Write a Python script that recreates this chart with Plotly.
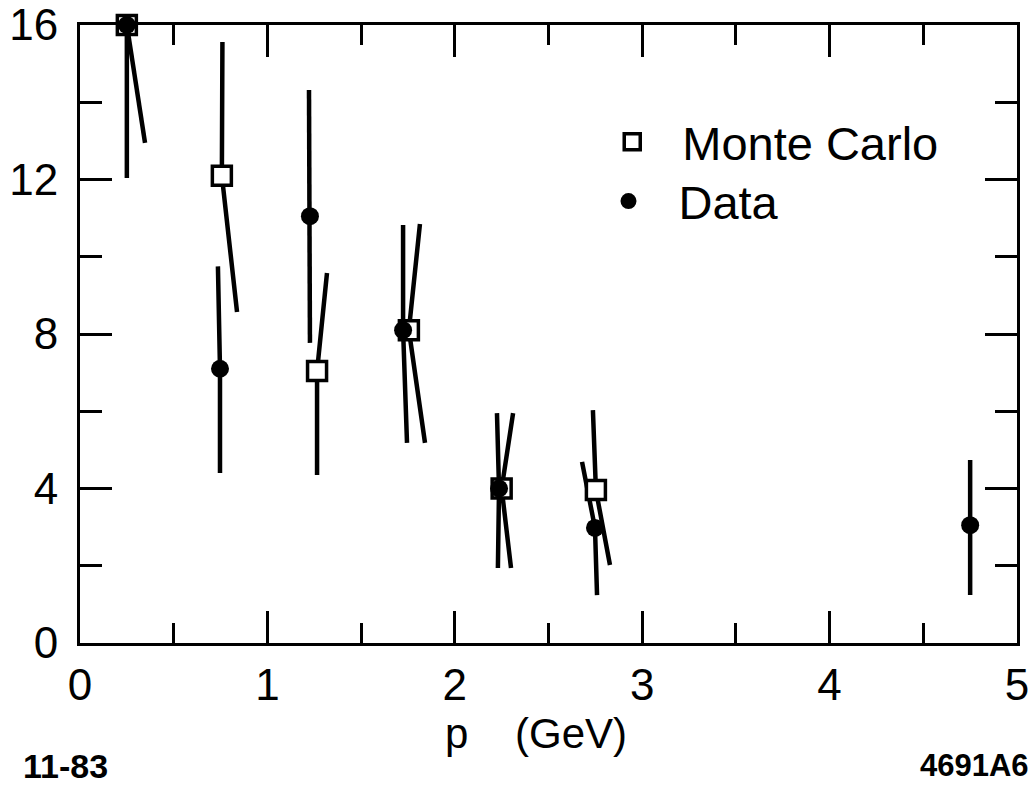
import plotly.graph_objects as go

# ---- data ----
data_x = [0.25, 0.747, 1.227, 1.724, 2.236, 2.748, 4.75]
data_y = [16.0, 7.1, 11.05, 8.1, 4.0, 2.98, 3.05]
data_up_x = [0.25, 0.736, 1.222, 1.724, 2.225, 2.679, 4.75]
data_up_y = [16.0, 9.75, 14.32, 10.82, 5.95, 4.69, 4.74]
data_lo_x = [0.25, 0.747, 1.227, 1.745, 2.23, 2.759, 4.75]
data_lo_y = [12.04, 4.4, 7.77, 5.18, 1.94, 1.24, 1.24]

mc_x = [0.25, 0.757, 1.265, 1.755, 2.25, 2.753]
mc_y = [16.0, 12.1, 7.04, 8.1, 4.0, 3.96]
mc_up_x = [0.25, 0.76, 1.318, 1.814, 2.311, 2.737]
mc_up_y = [16.0, 15.56, 9.58, 10.85, 5.95, 6.03]
mc_lo_x = [0.347, 0.838, 1.265, 1.841, 2.30, 2.828]
mc_lo_y = [12.95, 8.57, 4.35, 5.18, 1.94, 2.02]

x_ticks = [0, 1, 2, 3, 4, 5]
x_ticklabels = ["0", "1", "2", "3", "4", "5"]
y_ticks = [0, 4, 8, 12, 16]
y_ticklabels = ["0", "4", "8", "12", "16"]


def segments(cx, cy, ux, uy, lx, ly):
    xs, ys = [], []
    for a, b, c, d, e, f in zip(cx, cy, ux, uy, lx, ly):
        xs += [c, a, e, None]
        ys += [d, b, f, None]
    return xs, ys


FONT = "Liberation Sans, Arial, sans-serif"
fig = go.Figure()

mx, my = segments(mc_x, mc_y, mc_up_x, mc_up_y, mc_lo_x, mc_lo_y)
dx, dy = segments(data_x, data_y, data_up_x, data_up_y, data_lo_x, data_lo_y)
fig.add_trace(go.Scatter(x=mx, y=my, mode="lines", line=dict(color="black", width=4.5),
                         showlegend=False, hoverinfo="skip", cliponaxis=False))
fig.add_trace(go.Scatter(x=dx, y=dy, mode="lines", line=dict(color="black", width=4.5),
                         showlegend=False, hoverinfo="skip", cliponaxis=False))
fig.add_trace(go.Scatter(x=mc_x, y=mc_y, mode="markers", name="Monte Carlo",
                         marker=dict(symbol="square", size=19, color="white",
                                     line=dict(color="black", width=3.5)),
                         cliponaxis=False, legend="legend"))
fig.add_trace(go.Scatter(x=data_x, y=data_y, mode="markers", name="Data",
                         marker=dict(symbol="circle", size=18, color="black"),
                         cliponaxis=False, legend="legend2"))

axis_common = dict(showline=True, linecolor="black", linewidth=3, mirror="ticks",
                   ticks="inside", tickcolor="black", tickwidth=3, ticklen=32,
                   showgrid=False, zeroline=False, automargin=False,
                   ticklabeloverflow="allow",
                   tickfont=dict(family=FONT, size=44, color="black"))

fig.update_xaxes(range=[0, 5], tickvals=x_ticks, ticktext=x_ticklabels,
                 minor=dict(ticks="inside", ticklen=20, tickwidth=3, tickcolor="black",
                            dtick=0.5, tick0=0, showgrid=False),
                 ticklabelstandoff=1, **axis_common)
fig.update_yaxes(range=[0, 16], tickvals=y_ticks, ticktext=y_ticklabels,
                 minor=dict(ticks="inside", ticklen=22, tickwidth=3, tickcolor="black",
                            dtick=2, tick0=0, showgrid=False),
                 ticklabelstandoff=10, **axis_common)

legend_style = dict(xanchor="left", yanchor="top",
                    font=dict(family=FONT, size=47, color="black"),
                    bgcolor="rgba(0,0,0,0)", itemwidth=90)

fig.update_layout(
    width=1031, height=790,
    margin=dict(l=80, r=14, t=25, b=147, autoexpand=False),
    plot_bgcolor="white", paper_bgcolor="white",
    legend=dict(x=0.536, y=0.871, **legend_style),
    legend2=dict(x=0.532, y=0.775, **legend_style),
    annotations=[
        dict(text="p\u00a0\u00a0\u00a0\u00a0(GeV)", x=0.487, y=-0.147, xref="paper", yref="paper",
             xanchor="center", yanchor="middle", showarrow=False,
             font=dict(family=FONT, size=42, color="black")),
        dict(text="<b>11-83</b>", x=-0.016, y=-0.199, xref="paper", yref="paper",
             xanchor="center", yanchor="middle", showarrow=False,
             font=dict(family=FONT, size=34, color="black")),
        dict(text="<b>4691A6</b>", x=0.955, y=-0.199, xref="paper", yref="paper",
             xanchor="center", yanchor="middle", showarrow=False,
             font=dict(family=FONT, size=31, color="black")),
    ],
)

# remove the browser's default 8px body margin so the 1031x790 figure fills the window
fig.write_html("out.html", config={"displayModeBar": False},
               post_script="document.body.style.margin='0';document.body.style.overflow='hidden';")
